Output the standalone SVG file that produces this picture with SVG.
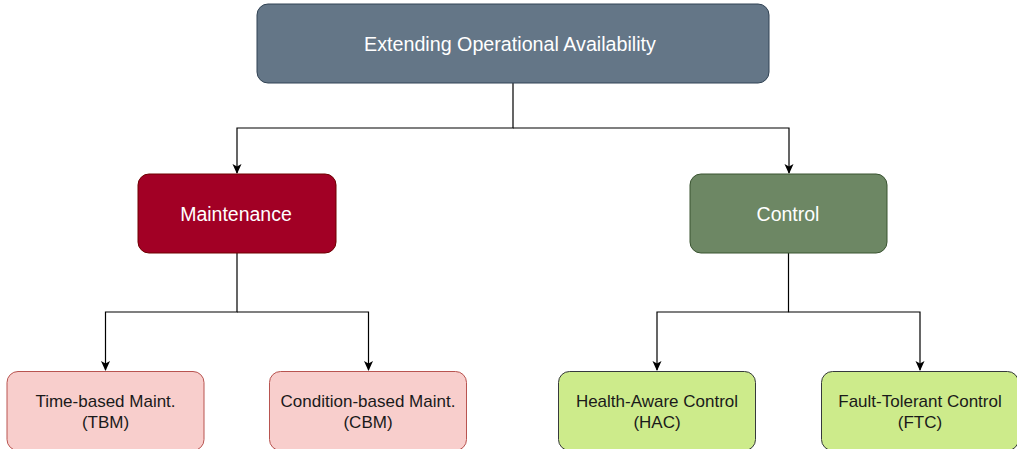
<svg xmlns="http://www.w3.org/2000/svg" width="1017" height="449" viewBox="0 0 1017 449">
<style>
text{font-family:"Liberation Sans",Arial,sans-serif;text-anchor:middle}
.w{fill:#ffffff;font-size:19.5px}
.b{fill:#1a1a1a;font-size:17px}
.c{fill:none;stroke:#000;stroke-width:1.2}
</style>
<defs>
<marker id="a" viewBox="0 0 10 10" refX="9" refY="5" markerWidth="10" markerHeight="10" markerUnits="userSpaceOnUse" orient="auto">
<path d="M0,0.5 L10,5 L0,9.5 L2.5,5 Z" fill="#000"/>
</marker>
</defs>
<rect width="1017" height="449" fill="#fff"/>
<g id="connectors">
<path class="c" d="M513,83 V128 H237 V173" marker-end="url(#a)"/>
<path class="c" d="M513,128 H789 V173" marker-end="url(#a)"/>
<path class="c" d="M237,253 V312 H105.5 V370" marker-end="url(#a)"/>
<path class="c" d="M237,312 H368.5 V370" marker-end="url(#a)"/>
<path class="c" d="M788.5,253 V312 H657 V370" marker-end="url(#a)"/>
<path class="c" d="M788.5,312 H920 V370" marker-end="url(#a)"/>
</g>
<g id="root">
<rect x="257" y="4" width="512" height="79" rx="11" fill="#647687" stroke="#314354"/>
<text class="w" x="510" y="51" style="font-size:19.7px">Extending Operational Availability</text>
</g>
<g id="maintenance">
<rect x="138" y="174" width="198" height="79" rx="11" fill="#a20025" stroke="#6f0000"/>
<text class="w" x="236" y="220.5">Maintenance</text>
</g>
<g id="control">
<rect x="690" y="174" width="197" height="79" rx="11" fill="#6d8764" stroke="#3a5431"/>
<text class="w" x="788" y="220.5">Control</text>
</g>
<g id="tbm">
<rect x="7" y="371.5" width="197" height="79" rx="11" fill="#f8cecc" stroke="#b85450"/>
<text class="b" x="105.5" y="406.5">Time-based Maint.</text>
<text class="b" x="105.5" y="428">(TBM)</text>
</g>
<g id="cbm">
<rect x="269.5" y="371.5" width="197" height="79" rx="11" fill="#f8cecc" stroke="#b85450"/>
<text class="b" x="368" y="406.5">Condition-based Maint.</text>
<text class="b" x="368" y="428">(CBM)</text>
</g>
<g id="hac">
<rect x="558.5" y="371.5" width="197" height="79" rx="11" fill="#cdeb8b" stroke="#36393d"/>
<text class="b" x="657" y="406.5">Health-Aware Control</text>
<text class="b" x="657" y="428">(HAC)</text>
</g>
<g id="ftc">
<rect x="821.5" y="371.5" width="197" height="79" rx="11" fill="#cdeb8b" stroke="#36393d"/>
<text class="b" x="920" y="406.5">Fault-Tolerant Control</text>
<text class="b" x="920" y="428">(FTC)</text>
</g>
</svg>
